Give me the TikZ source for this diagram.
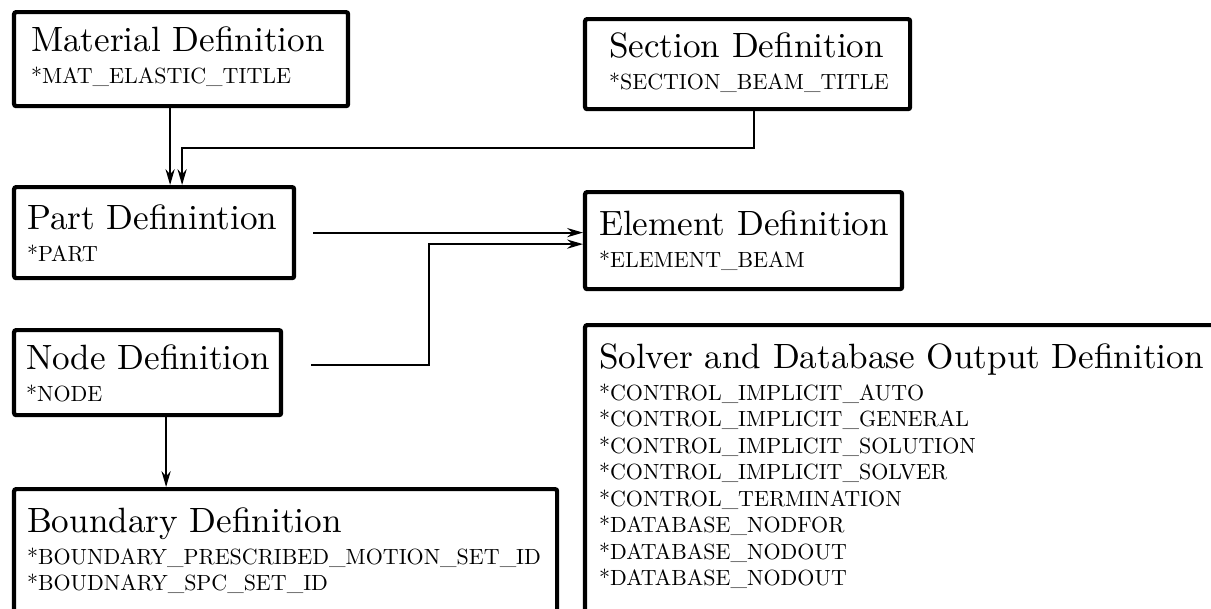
\documentclass[tikz,border=0pt]{standalone}
\usepackage{fontspec}
\usetikzlibrary{arrows.meta,positioning}

\newfontfamily\lmdix{lmroman10-regular.otf}
\newcommand{\titre}{\fontsize{10}{12}\selectfont}
\newcommand{\motcle}{\lmdix\fontsize{6.25}{7.54}\selectfont}

\begin{document}
\begin{tikzpicture}[
    boite/.style={draw, line width=1.2pt, rounded corners=0.6pt, anchor=north west, align=left, inner ysep=0pt},
    fleche/.style={semithick, -{Stealth[length=4.5pt,width=2.6pt]}}
  ]
    \useasboundingbox (0,0) rectangle (12.11,-6.08);

    % Boites
    \node[boite, inner xsep=0.17cm, text width=3.00cm, text height=0.39cm, text depth=0.55cm] (mat) at (0.12,-0.10)
        {\mbox{\titre Material Definition}\\[1.6pt]\motcle *MAT\_ELASTIC\_TITLE\par};
    \node[boite, inner xsep=0.24cm, text width=2.77cm, text height=0.38cm, text depth=0.52cm] (sec) at (5.83,-0.17)
        {\mbox{\titre Section Definition}\\[1.6pt]\motcle *SECTION\_BEAM\_TITLE\par};
    \node[boite, inner xsep=0.13cm, text width=2.54cm, text height=0.42cm, text depth=0.49cm] (part) at (0.12,-1.85)
        {\mbox{\titre Part Definintion}\\[1.6pt]\motcle *PART\par};
    \node[boite, inner xsep=0.14cm, text width=2.89cm, text height=0.43cm, text depth=0.54cm] (elem) at (5.83,-1.90)
        {\mbox{\titre Element Definition}\\[1.6pt]\motcle *ELEMENT\_BEAM\par};
    \node[boite, inner xsep=0.12cm, text width=2.43cm, text height=0.39cm, text depth=0.46cm] (nd) at (0.12,-3.28)
        {\mbox{\titre Node Definition}\\[1.6pt]\motcle *NODE\par};
    \node[boite, inner xsep=0.13cm, text width=5.17cm, text height=0.43cm, text depth=1.70cm] (bnd) at (0.12,-4.87)
        {\mbox{\titre Boundary Definition}\\[1.6pt]\motcle *BOUNDARY\_PRESCRIBED\_MOTION\_SET\_ID\\{}%
         *BOUDNARY\_SPC\_SET\_ID\par};
    \node[boite, inner xsep=0.14cm, text width=6.89cm, text height=0.43cm, text depth=3.33cm] (solv) at (5.83,-3.23)
        {\mbox{\titre Solver and Database Output Definition}\\[1.6pt]\motcle *CONTROL\_IMPLICIT\_AUTO\\{}%
         *CONTROL\_IMPLICIT\_GENERAL\\{}%
         *CONTROL\_IMPLICIT\_SOLUTION\\{}%
         *CONTROL\_IMPLICIT\_SOLVER\\{}%
         *CONTROL\_TERMINATION\\{}%
         *DATABASE\_NODFOR\\{}%
         *DATABASE\_NODOUT\\{}%
         *DATABASE\_NODOUT\par};

    % Fleches
    \draw[fleche] ([xshift=-0.11cm]mat.south) -- ([xshift=-0.11cm]mat.south |- part.north);
    \draw[fleche] ([xshift=0.065cm]sec.south) -- ++(0,-0.37) -| ([xshift=0.01cm]mat.south |- part.north);
    \draw[fleche] ([xshift=0.17cm]part.east) -- (part.east -| elem.west);
    \draw[fleche] ([xshift=0.28cm,yshift=0.075cm]nd.east) -- ++(1.18,0) |- ([yshift=-0.035cm]elem.west);
    \draw[fleche] ([xshift=0.185cm]nd.south) -- ([xshift=0.185cm]nd.south |- bnd.north);
\end{tikzpicture}
\end{document}
